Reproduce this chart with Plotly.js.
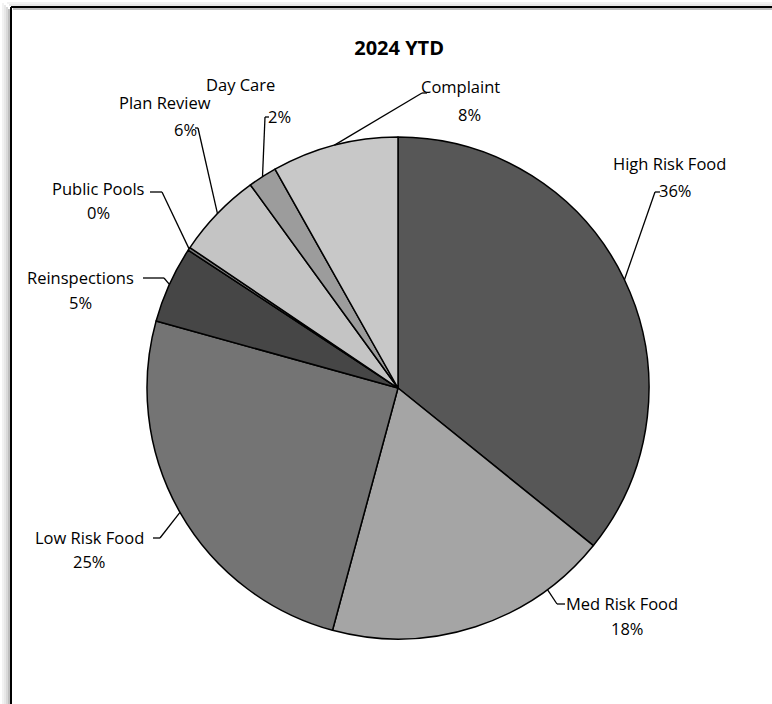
<!DOCTYPE html>
<html>
<head>
<meta charset="utf-8">
<script src="https://cdn.plot.ly/plotly-3.0.1.min.js"></script>
<style>html,body{margin:0;padding:0;background:#fff;overflow:hidden;}#chart{width:772px;height:704px;}</style>
</head>
<body>
<div id="chart"></div>
<script>
// ---- data ----
const categories = ['High Risk Food','Med Risk Food','Low Risk Food','Reinspections','Public Pools','Plan Review','Day Care','Complaint'];
const values = [35.8, 18.4, 25.1, 4.95, 0.2, 5.55, 1.85, 8.15];
const sliceColors = ['#575757','#a5a5a5','#747474','#464646','#7a7a7a','#c4c4c4','#9c9c9c','#c8c8c8'];
const titleText = '2024 YTD';

// ---- layout constants (pixels) ----
const W = 772, H = 704;
const CX = 398, CY = 388, R = 251;
const FONT = 'Open Sans, Liberation Sans, sans-serif';
const FS = 16.5;
// label placement: name centre, percent centre, leader points (label side first), attach position inside slice (0..1)
const labelPos = [
  {n:[669,164], p:[675,191], lead:[[660,192],[655,192]], t:0.5},
  {n:[622,603], p:[627,628], lead:[[565,604],[557,604]], t:0.22},
  {n:[89,537],  p:[89,561],  lead:[[153,538],[160,538]], t:0.5},
  {n:[80,277],  p:[80,302],  lead:[[143,278],[164,278]], t:0.5},
  {n:[98,188],  p:[98,213],  lead:[[150,192],[162,192]], t:0.5},
  {n:[165,102], p:[185,129], lead:[[195,128],[198,128]], t:0.5},
  {n:[240,84],  p:[279,116], lead:[[269,117],[265,117]], t:0.5},
  {n:[460,86],  p:[469,115], lead:[[427,93],[422,93]], t:0.5}
];

const px = x => x / W;
const py = y => 1 - y / H;

const total = values.reduce((a,b)=>a+b,0);
const annotations = [];
const shapes = [];

// frame with soft shadow on left/top (only the visible top and left edges)
[[3,'rgba(0,0,0,0.05)'],[5,'rgba(0,0,0,0.09)'],[7,'rgba(0,0,0,0.15)'],[9,'rgba(0,0,0,0.25)']].forEach(([o,c])=>{
  shapes.push({type:'line', xref:'paper', yref:'paper', x0:px(o+4), y0:py(o), x1:px(W), y1:py(o), line:{color:c, width:2}, layer:'below'});
  shapes.push({type:'line', xref:'paper', yref:'paper', x0:px(o), y0:py(o), x1:px(o), y1:py(H), line:{color:c, width:2}, layer:'below'});
});
shapes.push({type:'line', xref:'paper', yref:'paper', x0:px(11), y0:py(7), x1:px(W), y1:py(7), line:{color:'#000', width:2}, layer:'below'});
shapes.push({type:'line', xref:'paper', yref:'paper', x0:px(11), y0:py(7), x1:px(11), y1:py(H), line:{color:'#000', width:2}, layer:'below'});

let cum = 0;
values.forEach((v,i)=>{
  const L = labelPos[i];
  const frac = (cum + L.t * v) / total;
  cum += v;
  const th = 2*Math.PI*frac;
  const ax = CX + R*Math.sin(th), ay = CY - R*Math.cos(th);
  const pts = L.lead.concat([[ax,ay]]);
  for(let k=0;k<pts.length-1;k++){
    shapes.push({type:'line', xref:'paper', yref:'paper',
      x0:px(pts[k][0]), y0:py(pts[k][1]), x1:px(pts[k+1][0]), y1:py(pts[k+1][1]),
      line:{color:'#000', width:1.3}});
  }
  annotations.push({xref:'paper', yref:'paper', x:px(L.n[0]), y:py(L.n[1]), text:categories[i],
    showarrow:false, xanchor:'center', yanchor:'middle', font:{family:FONT, size:FS, color:'#000'}});
  annotations.push({xref:'paper', yref:'paper', x:px(L.p[0]), y:py(L.p[1]), text:Math.round(v/total*100)+'%',
    showarrow:false, xanchor:'center', yanchor:'middle', font:{family:FONT, size:FS, color:'#000'}});
});

const trace = {
  type:'pie', labels:categories, values:values, sort:false, direction:'clockwise', rotation:0,
  marker:{colors:sliceColors, line:{color:'#000', width:1.5}},
  textinfo:'none', hoverinfo:'label+percent', showlegend:false,
  domain:{x:[px(CX-R), px(CX+R)], y:[py(CY+R), py(CY-R)]}
};

const layout = {
  width:W, height:H, margin:{l:0,r:0,t:0,b:0},
  paper_bgcolor:'#fff', plot_bgcolor:'#fff',
  title:{text:'<b>'+titleText+'</b>', x:0.517, xanchor:'center', y:py(48), yanchor:'middle',
    font:{family:FONT, size:20, color:'#000'}},
  shapes:shapes, annotations:annotations, showlegend:false
};

Plotly.newPlot('chart',[trace],layout,{displayModeBar:false, staticPlot:true});
</script>
</body>
</html>
